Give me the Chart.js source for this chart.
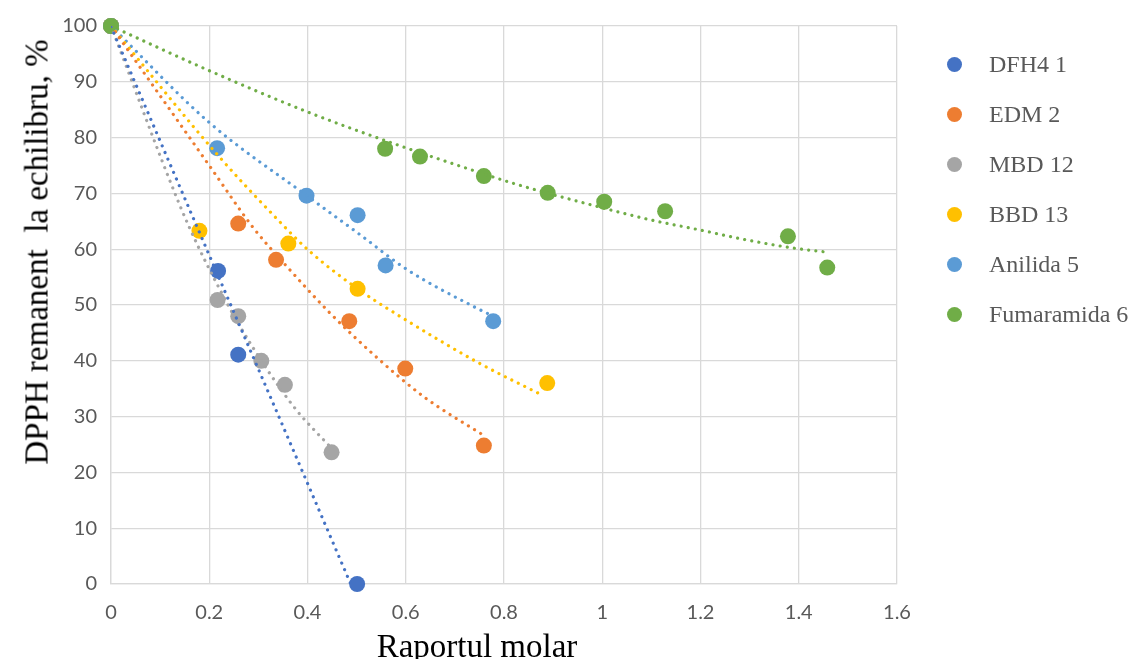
<!DOCTYPE html>
<html>
<head>
<meta charset="utf-8">
<script src="https://cdn.jsdelivr.net/npm/chart.js@4.4.1/dist/chart.umd.min.js"></script>
<style>
  html, body { margin: 0; padding: 0; background: #ffffff; }
  #wrap { position: relative; width: 1132px; height: 659px; overflow: hidden; background: #fff; }
  #c { position: absolute; left: 0; top: 0; }
  .ytitle { position: absolute; left: 37px; top: 252px; transform: translate(-50%, -50%) rotate(-90deg);
            font-family: "Liberation Serif", "Times New Roman", serif; font-size: 33px; color: #000;
            white-space: pre; line-height: 1; }
  .xtitle { position: absolute; left: 477px; top: 646px; transform: translate(-50%, -50%);
            font-family: "Liberation Serif", "Times New Roman", serif; font-size: 33px; color: #000;
            white-space: pre; line-height: 1; }
  .leg { position: absolute; left: 947px; height: 16px; display: flex; align-items: center;
         font-family: "Liberation Serif", "Times New Roman", serif; font-size: 24px; color: #595959; white-space: pre; }
  .leg .dot { width: 15px; height: 15px; border-radius: 50%; margin-right: 27px; flex: none; }
</style>
</head>
<body>
<div id="wrap">
  <canvas id="c" width="1132" height="659"></canvas>
  <div class="ytitle">DPPH remanent  la echilibru, %</div>
  <div class="xtitle">Raportul molar</div>
</div>
<script>
// ---- data ----
const seriesNames = ["DFH4 1", "EDM 2", "MBD 12", "BBD 13", "Anilida 5", "Fumaramida 6"];
const seriesColors = ["#4472C4", "#ED7D31", "#A5A5A5", "#FFC000", "#5B9BD5", "#70AD47"];

const dfh4X = [0, 0.218, 0.259, 0.501];
const dfh4Y = [100, 56.1, 41.1, 0];
const edmX = [0, 0.259, 0.336, 0.485, 0.599, 0.759];
const edmY = [100, 64.6, 58.1, 47.1, 38.6, 24.8];
const mbdX = [0, 0.217, 0.259, 0.306, 0.354, 0.449];
const mbdY = [100, 50.9, 48.0, 40.0, 35.7, 23.6];
const bbdX = [0, 0.18, 0.361, 0.502, 0.888];
const bbdY = [100, 63.3, 61.0, 52.9, 36.0];
const anilX = [0, 0.216, 0.398, 0.502, 0.559, 0.778];
const anilY = [100, 78.1, 69.6, 66.1, 57.1, 47.1];
const fumX = [0, 0.558, 0.629, 0.759, 0.889, 1.004, 1.128, 1.378, 1.458];
const fumY = [100, 78.0, 76.6, 73.1, 70.1, 68.5, 66.8, 62.3, 56.7];

// dotted trend lines
const dfh4TrendX = [0, 0.159, 0.281, 0.391, 0.488];
const dfh4TrendY = [99.9, 67.3, 42.4, 19.9, 0];
const edmTrendX = [0, 0.1, 0.2, 0.29, 0.354, 0.442, 0.536, 0.636, 0.759];
const edmTrendY = [100, 87.5, 75, 63.8, 57.3, 48.9, 41.0, 33.6, 26.6];
const mbdTrendX = [0, 0.139, 0.179, 0.215, 0.263, 0.37, 0.449];
const mbdTrendY = [100, 68.1, 60.2, 53.9, 46.1, 32.0, 24.3];
const bbdTrendX = [0, 0.216, 0.336, 0.402, 0.502, 0.61, 0.749, 0.88];
const bbdTrendY = [100, 77, 65.6, 59.8, 52.9, 46.8, 39.6, 33.75];
const anilTrendX = [0, 0.2, 0.4, 0.507, 0.6, 0.743, 0.778];
const anilTrendY = [100, 82.7, 69.5, 62.6, 56.5, 49.5, 48];
const fumTrendX = [0, 0.2, 0.4, 0.586, 0.724, 0.819, 0.975, 1.101, 1.196, 1.292, 1.389, 1.454];
const fumTrendY = [100, 92, 84.6, 78.6, 74.5, 71.8, 68, 65.2, 63.5, 61.7, 60.2, 59.5];

const xTickLabels = ["0", "0.2", "0.4", "0.6", "0.8", "1", "1.2", "1.4", "1.6"];
const yTickLabels = ["0", "10", "20", "30", "40", "50", "60", "70", "80", "90", "100"];

// ---- build datasets ----
const pts = (xs, ys) => xs.map((x, i) => ({ x: x, y: ys[i] }));
const markerSets = [[dfh4X, dfh4Y], [edmX, edmY], [mbdX, mbdY], [bbdX, bbdY], [anilX, anilY], [fumX, fumY]];
const trendSets = [[dfh4TrendX, dfh4TrendY], [edmTrendX, edmTrendY], [mbdTrendX, mbdTrendY],
                   [bbdTrendX, bbdTrendY], [anilTrendX, anilTrendY], [fumTrendX, fumTrendY]];

const datasets = [];
markerSets.forEach((s, i) => {
  datasets.push({
    label: seriesNames[i],
    data: pts(s[0], s[1]),
    showLine: false,
    clip: false,
    pointRadius: 8,
    pointHoverRadius: 8,
    pointBackgroundColor: seriesColors[i],
    pointBorderColor: seriesColors[i],
    pointBorderWidth: 0,
    backgroundColor: seriesColors[i],
    borderColor: seriesColors[i],
    order: 6 - i + 1
  });
});
trendSets.forEach((s, i) => {
  datasets.push({
    label: seriesNames[i] + " trend",
    data: pts(s[0], s[1]),
    showLine: true,
    pointRadius: 0,
    borderColor: seriesColors[i],
    borderWidth: 3.2,
    borderDash: [0.01, 7.2],
    borderCapStyle: 'round',
    cubicInterpolationMode: 'monotone',
    fill: false,
    order: 0
  });
});

const tickFont = { family: "Lato, 'Open Sans', sans-serif", size: 20 };

new Chart(document.getElementById('c'), {
  type: 'scatter',
  data: { datasets: datasets },
  options: {
    responsive: false,
    animation: false,
    devicePixelRatio: 1,
    layout: { padding: { left: 0, right: 235, top: 24, bottom: 0 } },
    plugins: { legend: { display: false }, tooltip: { enabled: false } },
    scales: {
      x: {
        type: 'linear', min: 0, max: 1.6,
        afterFit: (s) => { s.height = 75; },
        ticks: { stepSize: 0.2, color: '#595959', font: tickFont, padding: 17,
                 callback: (v, i) => xTickLabels[i] },
        grid: { color: '#D9D9D9', lineWidth: 1.3, drawTicks: false },
        border: { color: '#D9D9D9', width: 1.3 }
      },
      y: {
        type: 'linear', min: 0, max: 100,
        afterFit: (s) => { s.width = 111; },
        ticks: { stepSize: 10, color: '#595959', font: tickFont, padding: 14,
                 callback: (v, i) => yTickLabels[i] },
        grid: { color: '#D9D9D9', lineWidth: 1.3, drawTicks: false },
        border: { color: '#D9D9D9', width: 1.3 }
      }
    }
  }
});

// legend (HTML, from the series arrays)
const legendY = [64, 114, 164, 214, 264, 314];
const wrap = document.getElementById('wrap');
seriesNames.forEach((name, i) => {
  const d = document.createElement('div');
  d.className = 'leg';
  d.style.top = (legendY[i] - 8) + 'px';
  const dot = document.createElement('span');
  dot.className = 'dot';
  dot.style.background = seriesColors[i];
  const t = document.createElement('span');
  t.textContent = name;
  d.appendChild(dot); d.appendChild(t);
  wrap.appendChild(d);
});
</script>
</body>
</html>
